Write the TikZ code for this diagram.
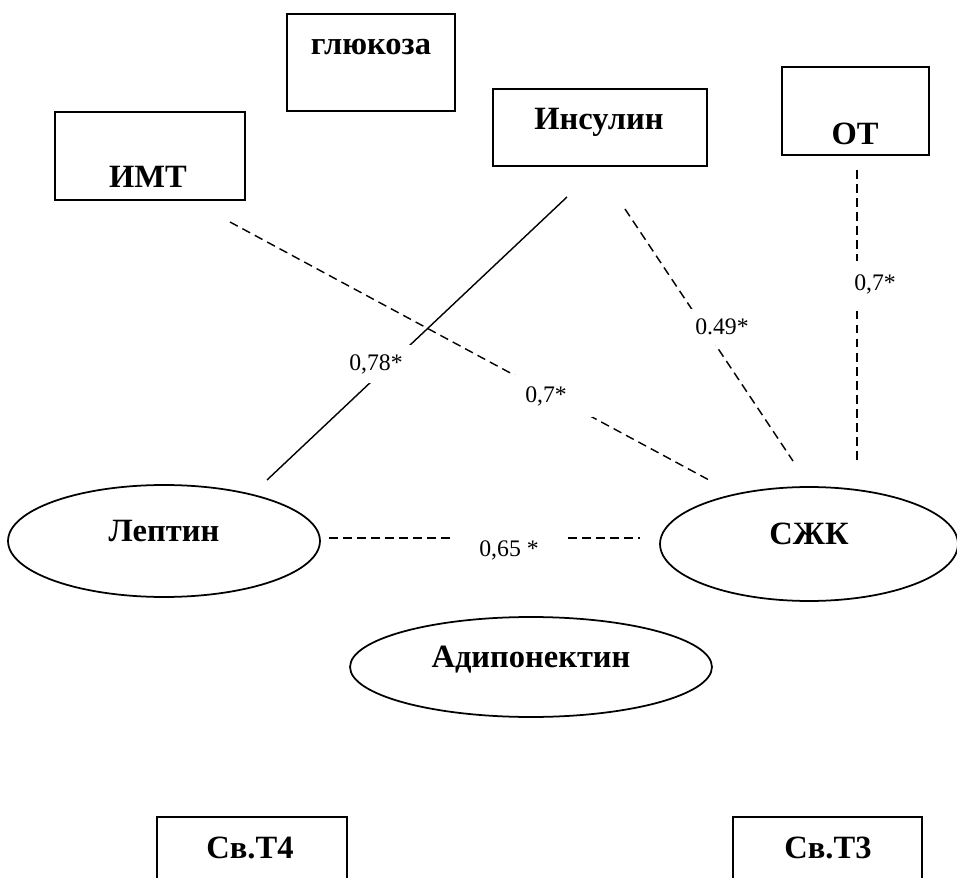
\documentclass[tikz,border=0pt]{standalone}
\usepackage{fontspec}
\setmainfont{Liberation Serif}
\usetikzlibrary{shapes.geometric}

\tikzset{
	box/.style={draw, line width=1pt, inner sep=0pt},
	oval/.style={draw, ellipse, line width=1pt, inner sep=0pt, text height=0pt, text depth=0pt, font=\bfseries\fontsize{18.5}{20}\selectfont},
	boxtext/.style={anchor=base, inner sep=0pt, font=\bfseries\fontsize{18.5}{20}\selectfont},
	link/.style={line width=0.8pt},
	dlink/.style={line width=0.8pt, dash pattern=on 5pt off 3pt},
	coef/.style={fill=white, font=\fontsize{13.5}{15}\selectfont},
}

\begin{document}
\begin{tikzpicture}[x=0.02cm, y=-0.02cm]
	\useasboundingbox (0,0) rectangle (957,878);
	\clip (0,0) rectangle (957,878);
	% boxes
	\node[box, minimum width=3.8cm, minimum height=1.76cm] (imt) at (150,156) {};
	\node[boxtext] (imtT) at (148,188) {ИМТ};
	\node[box, minimum width=3.36cm, minimum height=1.94cm] (gluc) at (371,62.5) {};
	\node[boxtext] (glucT) at (371,55) {глюкоза};
	\node[box, minimum width=4.28cm, minimum height=1.54cm] (ins) at (600,127.5) {};
	\node[boxtext] (insT) at (599,130) {Инсулин};
	\node[box, minimum width=2.94cm, minimum height=1.76cm] (ot) at (855.5,111) {};
	\node[boxtext] (otT) at (855,145) {ОТ};
	\node[box, minimum width=3.8cm, minimum height=1.76cm] (sv4) at (252,861) {};
	\node[boxtext] (sv4T) at (250,858) {Св.Т4};
	\node[box, minimum width=3.78cm, minimum height=1.76cm] (sv3) at (827.5,861) {};
	\node[boxtext] (sv3T) at (828,858) {Св.Т3};
	% ellipses
	\node[oval, minimum width=6.24cm, minimum height=2.24cm] (lep) at (164,541) {Лептин};
	\node[oval, minimum width=5.96cm, minimum height=2.28cm] (szk) at (809,544) {СЖК};
	\node[oval, minimum width=7.24cm, minimum height=2.0cm] (adip) at (531,667) {Адипонектин};
	% line ends
	\coordinate (insA) at (567,197);
	\coordinate (lepA) at (267,480);
	\coordinate (imtA) at (230,222);
	\coordinate (szkA) at (709,480);
	\coordinate (insB) at (625,209);
	\coordinate (szkB) at (793,461);
	\coordinate (otA) at (857,170);
	\coordinate (szkC) at (857,460);
	\coordinate (lepB) at (329,538);
	\coordinate (szkD) at (640,538);
	% correlations
	\draw[link] (insA) -- (lepA);
	\draw[dlink] (imtA) -- (szkA);
	\draw[dlink] (insB) -- (szkB);
	\draw[dlink] (otA) -- (szkC);
	\draw[dlink] (lepB) -- (szkD);
	\node[coef, inner xsep=5.4pt, inner ysep=5.4pt] (c1) at (376,364) {0,78*};
	\node[coef, inner xsep=15pt, inner ysep=6.5pt] (c2) at (546,396) {0,7*};
	\node[coef, inner xsep=3.1pt, inner ysep=5.4pt] (c3) at (722,327) {0.49*};
	\node[coef, inner xsep=2.6pt, inner ysep=7.7pt] (c4) at (875,284) {0,7*};
	\node[coef, inner xsep=14pt, inner ysep=5.4pt] (c5) at (509,550) {0,65 *};
\end{tikzpicture}
\end{document}
